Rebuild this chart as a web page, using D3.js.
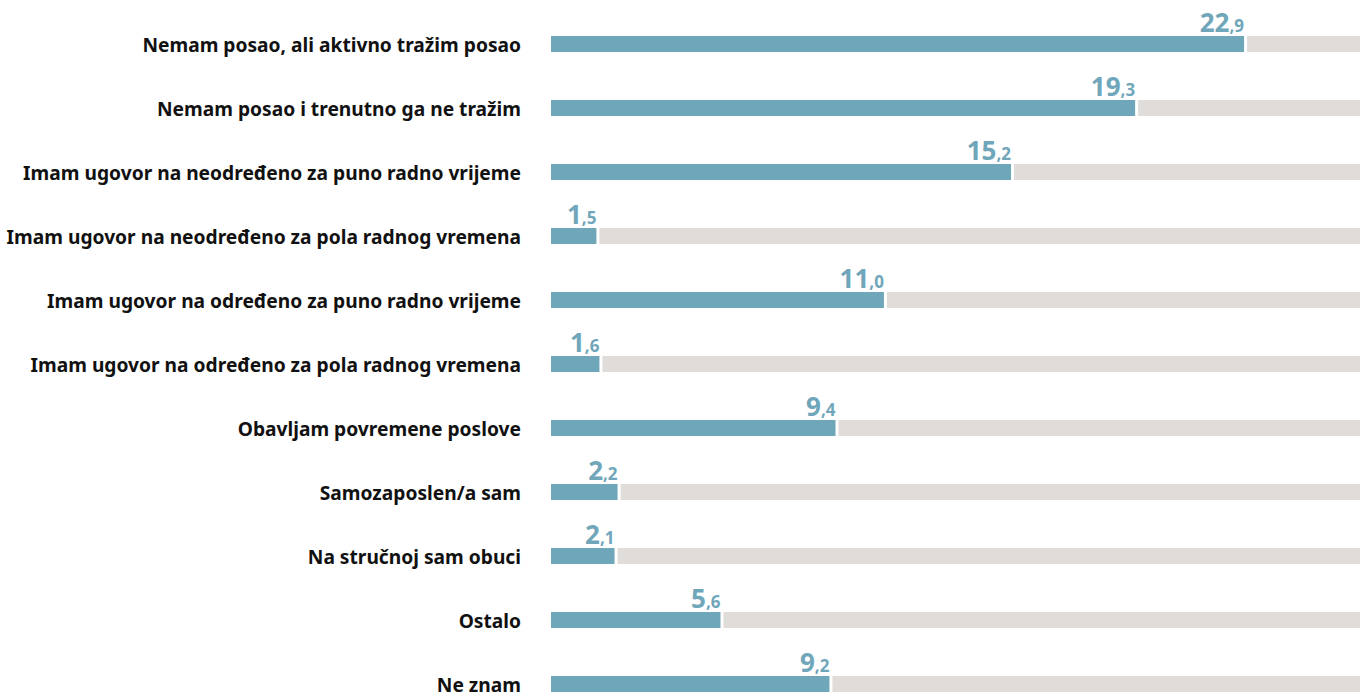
<!DOCTYPE html>
<html>
<head>
<meta charset="utf-8">
<script src="https://cdn.jsdelivr.net/npm/d3@7"></script>
<style>
  body { margin: 0; background: #fff; }
  svg { display: block; }
  .label { font-family: 'Noto Sans', sans-serif; font-weight: bold; font-size: 19.2px; fill: #111; }
  .value { font-family: 'Noto Sans', sans-serif; font-weight: bold; fill: #6fa6ba; }
</style>
</head>
<body>
<div id="chart"></div>
<script>
// categories and values (%)
var categories = [
    'Nemam posao, ali aktivno tražim posao',
    'Nemam posao i trenutno ga ne tražim',
    'Imam ugovor na neodređeno za puno radno vrijeme',
    'Imam ugovor na neodređeno za pola radnog vremena',
    'Imam ugovor na određeno za puno radno vrijeme',
    'Imam ugovor na određeno za pola radnog vremena',
    'Obavljam povremene poslove',
    'Samozaposlen/a sam',
    'Na stručnoj sam obuci',
    'Ostalo',
    'Ne znam'
];
var values = [22.9, 19.3, 15.2, 1.5, 11.0, 1.6, 9.4, 2.2, 2.1, 5.6, 9.2];

// svg area
var svgWidth = 1370;
var svgHeight = 697;

var margin = { top: 12, right: 10, bottom: 0, left: 551 };

var svg = d3.select('#chart')
    .append('svg')
    .attr('width', svgWidth)
    .attr('height', svgHeight);

var chartWidth = svgWidth - margin.left - margin.right;

// x scale - grey track runs to the end of the chart
var xScale = d3.scaleLinear()
    .domain([0, 26.73])
    .range([0, chartWidth]);

// y scale - one band per category
var yScale = d3.scaleBand()
    .domain(categories)
    .range([0, 64 * categories.length])
    .paddingInner(0.75)
    .paddingOuter(0.375);

var barH = 16;
var gap = 3;

var chartGroup = svg.append('g')
    .attr('transform', `translate(${margin.left}, ${margin.top})`);

var rows = chartGroup.selectAll('.row')
    .data(categories)
    .enter()
    .append('g')
    .attr('class', 'row')
    .attr('transform', d => `translate(0, ${yScale(d) + yScale.bandwidth() / 2 - barH / 2})`);

// grey remainder track
rows.append('rect')
    .attr('x', (d, i) => xScale(values[i]) + gap)
    .attr('y', 0)
    .attr('width', (d, i) => chartWidth - xScale(values[i]) - gap)
    .attr('height', barH)
    .attr('fill', '#e0dcd9');

// blue bar
rows.append('rect')
    .attr('x', 0)
    .attr('y', 0)
    .attr('width', (d, i) => xScale(values[i]))
    .attr('height', barH)
    .attr('fill', '#6fa6ba');

// category labels
rows.append('text')
    .attr('class', 'label')
    .attr('x', -30)
    .attr('y', barH)
    .attr('text-anchor', 'end')
    .text(d => d);

// value labels - big integer, small decimal
var valueText = rows.append('text')
    .attr('class', 'value')
    .attr('x', (d, i) => xScale(values[i]))
    .attr('y', -4)
    .attr('text-anchor', 'end');

valueText.append('tspan')
    .attr('font-size', '26px')
    .text((d, i) => Math.floor(values[i]));

valueText.append('tspan')
    .attr('font-size', '17px')
    .text((d, i) => ',' + values[i].toFixed(1).split('.')[1]);
</script>
</body>
</html>
